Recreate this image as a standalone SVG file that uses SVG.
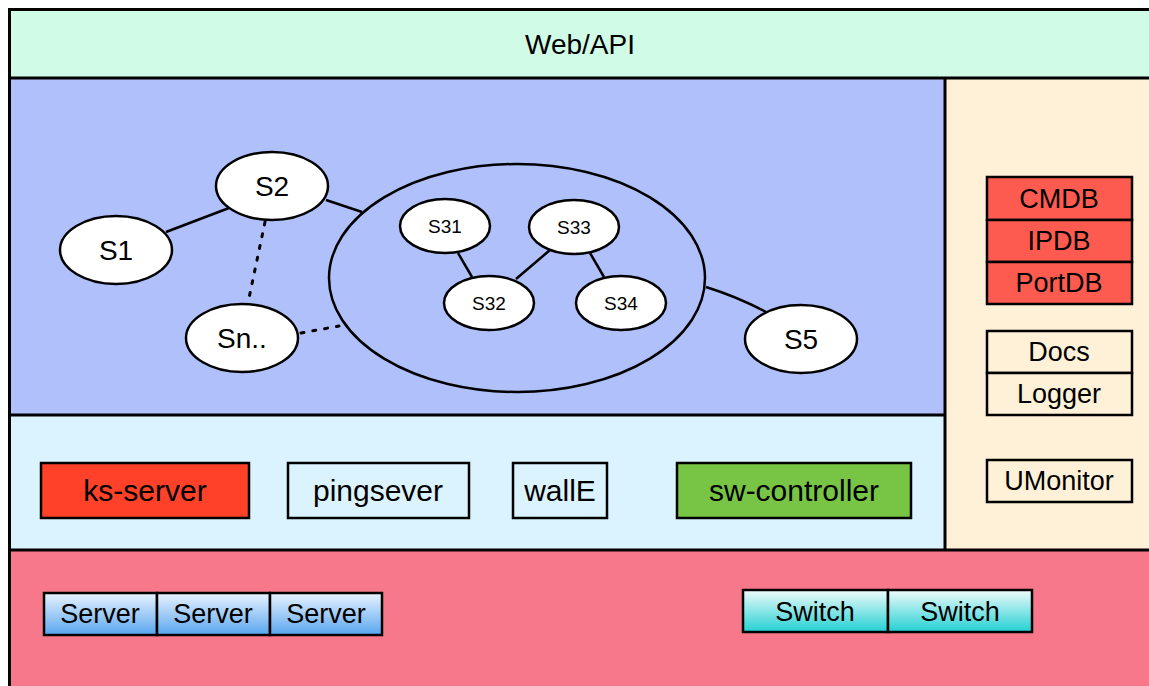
<svg xmlns="http://www.w3.org/2000/svg" width="1149" height="686" viewBox="0 0 1149 686">
  <defs>
    <linearGradient id="gServer" x1="0" y1="0" x2="0" y2="1">
      <stop offset="0" stop-color="#eaf3fe"/>
      <stop offset="1" stop-color="#58a6f0"/>
    </linearGradient>
    <linearGradient id="gSwitch" x1="0" y1="0" x2="0" y2="1">
      <stop offset="0" stop-color="#f0fbfb"/>
      <stop offset="1" stop-color="#22d0d3"/>
    </linearGradient>
    <style>
      text { font-family: "Liberation Sans", Arial, Helvetica, sans-serif; fill: #000; text-anchor: middle; }
      .frame { stroke: #000; stroke-width: 3; fill: none; }
      .node ellipse { fill: #fff; stroke: #000; stroke-width: 2.5; }
      .box { stroke: #000; stroke-width: 2.5; }
      .edge { stroke: #000; stroke-width: 2.5; fill: none; }
      .dotted { stroke-width: 3; stroke-dasharray: 3 9; stroke-linecap: round; }
      .big { font-size: 28px; }
      .mid { font-size: 27px; }
      .lbl { font-size: 30px; }
      .small { font-size: 19px; }
    </style>
  </defs>

  <!-- layer backgrounds -->
  <rect x="8" y="8" width="1141" height="70" fill="#d0fbe6"/>
  <rect x="8" y="78" width="937" height="337" fill="#b0c0fa"/>
  <rect x="8" y="415" width="937" height="135" fill="#dbf3fe"/>
  <rect x="945" y="78" width="204" height="472" fill="#fff1d8"/>
  <rect x="8" y="550" width="1141" height="136" fill="#f7788a"/>

  <!-- layer borders -->
  <g id="frame" class="frame">
    <line x1="9" y1="9.5" x2="1149" y2="9.5"/>
    <line x1="9.5" y1="8" x2="9.5" y2="686"/>
    <line x1="8" y1="78" x2="1149" y2="78"/>
    <line x1="8" y1="415" x2="945" y2="415"/>
    <line x1="945" y1="78" x2="945" y2="550"/>
    <line x1="8" y1="550" x2="1149" y2="550"/>
  </g>

  <g id="web-api">
    <text class="big" x="580" y="54">Web/API</text>
  </g>

  <!-- service graph connectors -->
  <g id="connectors">
    <line class="edge" x1="166" y1="232" x2="229" y2="208"/>
    <line class="edge" x1="326" y1="200" x2="362" y2="212"/>
    <line class="edge dotted" x1="265" y1="222" x2="249" y2="298"/>
    <line class="edge dotted" x1="301" y1="333" x2="339" y2="326"/>
    <line class="edge" x1="458" y1="253" x2="472" y2="277"/>
    <line class="edge" x1="516" y1="279" x2="550" y2="250"/>
    <line class="edge" x1="590" y1="253" x2="604" y2="277"/>
    <path class="edge" d="M706 287 Q738 297 766 312"/>
  </g>

  <!-- service cluster -->
  <g id="cluster" class="node">
    <ellipse cx="517" cy="278" rx="188" ry="114" style="fill:none"/>
  </g>
  <g id="s1" class="node">
    <ellipse cx="116" cy="250" rx="56" ry="34"/>
    <text class="big" x="116" y="260">S1</text>
  </g>
  <g id="s2" class="node">
    <ellipse cx="272" cy="186" rx="56" ry="34"/>
    <text class="big" x="272" y="196">S2</text>
  </g>
  <g id="sn" class="node">
    <ellipse cx="242" cy="338" rx="56" ry="34"/>
    <text class="big" x="242" y="348">Sn..</text>
  </g>
  <g id="s5" class="node">
    <ellipse cx="801" cy="339" rx="56" ry="34"/>
    <text class="big" x="801" y="349">S5</text>
  </g>
  <g id="s31" class="node">
    <ellipse cx="445" cy="226" rx="45" ry="27"/>
    <text class="small" x="445" y="233">S31</text>
  </g>
  <g id="s32" class="node">
    <ellipse cx="489" cy="303" rx="45" ry="27"/>
    <text class="small" x="489" y="310">S32</text>
  </g>
  <g id="s33" class="node">
    <ellipse cx="574" cy="227" rx="45" ry="27"/>
    <text class="small" x="574" y="234">S33</text>
  </g>
  <g id="s34" class="node">
    <ellipse cx="621" cy="303" rx="45" ry="27"/>
    <text class="small" x="621" y="310">S34</text>
  </g>

  <!-- control services -->
  <g id="ks-server">
    <rect class="box" x="41" y="463" width="208" height="55" fill="#fe4128"/>
    <text class="lbl" x="145" y="501">ks-server</text>
  </g>
  <g id="pingsever">
    <rect class="box" x="288" y="463" width="181" height="55" fill="#dbf3fe"/>
    <text class="lbl" x="378" y="501">pingsever</text>
  </g>
  <g id="walle">
    <rect class="box" x="513" y="463" width="94" height="55" fill="#dbf3fe"/>
    <text class="lbl" x="560" y="501">wallE</text>
  </g>
  <g id="sw-controller">
    <rect class="box" x="677" y="463" width="234" height="55" fill="#78c445"/>
    <text class="lbl" x="794" y="501">sw-controller</text>
  </g>

  <!-- side services -->
  <g id="databases">
    <rect class="box" x="987" y="177" width="145" height="43" fill="#fe5b50"/>
    <text class="mid" x="1059" y="208">CMDB</text>
    <rect class="box" x="987" y="220" width="145" height="42" fill="#fe5b50"/>
    <text class="mid" x="1059" y="250">IPDB</text>
    <rect class="box" x="987" y="262" width="145" height="42" fill="#fe5b50"/>
    <text class="mid" x="1059" y="292">PortDB</text>
  </g>
  <g id="docs-logger">
    <rect class="box" x="987" y="331" width="145" height="42" fill="#fff1d8"/>
    <text class="mid" x="1059" y="361">Docs</text>
    <rect class="box" x="987" y="373" width="145" height="42" fill="#fff1d8"/>
    <text class="mid" x="1059" y="403">Logger</text>
  </g>
  <g id="umonitor">
    <rect class="box" x="987" y="460" width="145" height="42" fill="#fff1d8"/>
    <text class="mid" x="1059" y="490">UMonitor</text>
  </g>

  <!-- hardware -->
  <g id="servers">
    <rect class="box" x="44" y="593" width="113" height="42" fill="url(#gServer)"/>
    <text class="mid" x="100" y="623">Server</text>
    <rect class="box" x="157" y="593" width="113" height="42" fill="url(#gServer)"/>
    <text class="mid" x="213" y="623">Server</text>
    <rect class="box" x="270" y="593" width="112" height="42" fill="url(#gServer)"/>
    <text class="mid" x="326" y="623">Server</text>
  </g>
  <g id="switches">
    <rect class="box" x="743" y="590" width="145" height="42" fill="url(#gSwitch)"/>
    <text class="mid" x="815" y="621">Switch</text>
    <rect class="box" x="888" y="590" width="144" height="42" fill="url(#gSwitch)"/>
    <text class="mid" x="960" y="621">Switch</text>
  </g>
</svg>
